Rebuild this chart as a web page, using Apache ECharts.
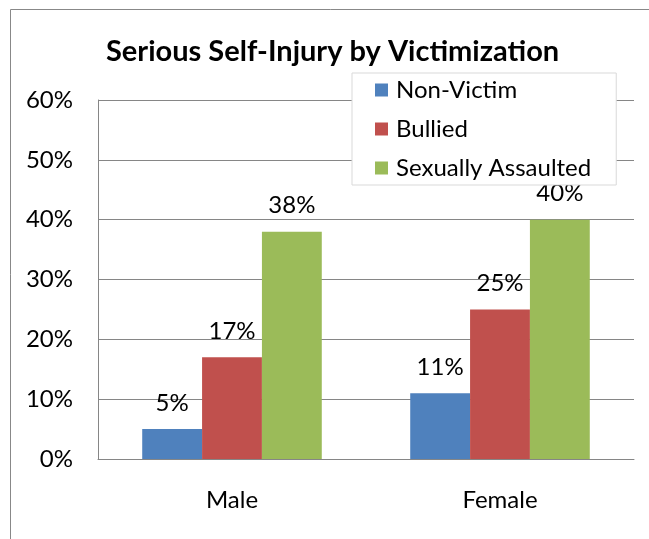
<!DOCTYPE html>
<html>
<head>
<meta charset="utf-8">
<script src="https://cdn.jsdelivr.net/npm/echarts@6/dist/echarts.min.js"></script>
<style>
  html, body { margin: 0; padding: 0; background: #fff; }
  #chart { width: 649px; height: 539px; }
</style>
</head>
<body>
<div id="chart"></div>
<script>
const groups = ['Male', 'Female'];
const seriesNames = ['Non-Victim', 'Bullied', 'Sexually Assaulted'];
const nonVictim = [5, 11];
const bullied = [17, 25];
const sexuallyAssaulted = [38, 40];
const colors = ['#4F81BD', '#C0504D', '#9BBB59'];

const fontName = 'Lato, "Open Sans", sans-serif';
const values = [nonVictim, bullied, sexuallyAssaulted];

const chart = echarts.init(document.getElementById('chart'));
chart.setOption({
  animation: false,
  textStyle: { fontFamily: fontName },
  title: {
    text: 'Serious Self-Injury by Victimization',
    left: 101,
    top: 32,
    textStyle: { fontSize: 29, fontWeight: 'bold', color: '#000', fontFamily: fontName }
  },
  graphic: [{
    type: 'rect',
    shape: { x: 10.5, y: 9.5, width: 700, height: 600 },
    style: { fill: 'none', stroke: '#888', lineWidth: 1 },
    silent: true,
    z: -1
  }],
  legend: {
    orient: 'vertical',
    left: 352,
    top: 73,
    itemWidth: 13,
    itemHeight: 13,
    itemGap: 15,
    padding: [5, 25, 5, 23],
    backgroundColor: '#fff',
    borderColor: '#d9d9d9',
    borderWidth: 1,
    icon: 'rect',
    textStyle: { fontSize: 24, color: '#000', fontFamily: fontName, padding: [0, 0, 0, 3] },
    data: seriesNames
  },
  grid: { left: 98, right: 15, top: 100, bottom: 80, containLabel: false },
  xAxis: {
    type: 'category',
    data: groups,
    axisLine: { lineStyle: { color: '#868686', width: 1 } },
    axisTick: { show: false },
    axisLabel: { fontSize: 24, color: '#000', margin: 29, fontFamily: fontName }
  },
  yAxis: {
    type: 'value',
    min: 0,
    max: 60,
    interval: 10,
    axisLine: { show: true, lineStyle: { color: '#868686', width: 1 } },
    axisTick: { show: false },
    splitLine: { lineStyle: { color: '#868686', width: 1 } },
    axisLabel: { fontSize: 24, color: '#000', margin: 25, formatter: '{value}%', fontFamily: fontName }
  },
  series: seriesNames.map((name, i) => ({
    name: name,
    type: 'bar',
    data: values[i],
    barGap: '0%',
    barCategoryGap: '33%',
    itemStyle: { color: colors[i] },
    label: {
      show: true,
      position: 'top',
      distance: 14,
      formatter: '{c}%',
      fontSize: 24,
      color: '#000',
      fontFamily: fontName
    }
  }))
});
</script>
</body>
</html>
